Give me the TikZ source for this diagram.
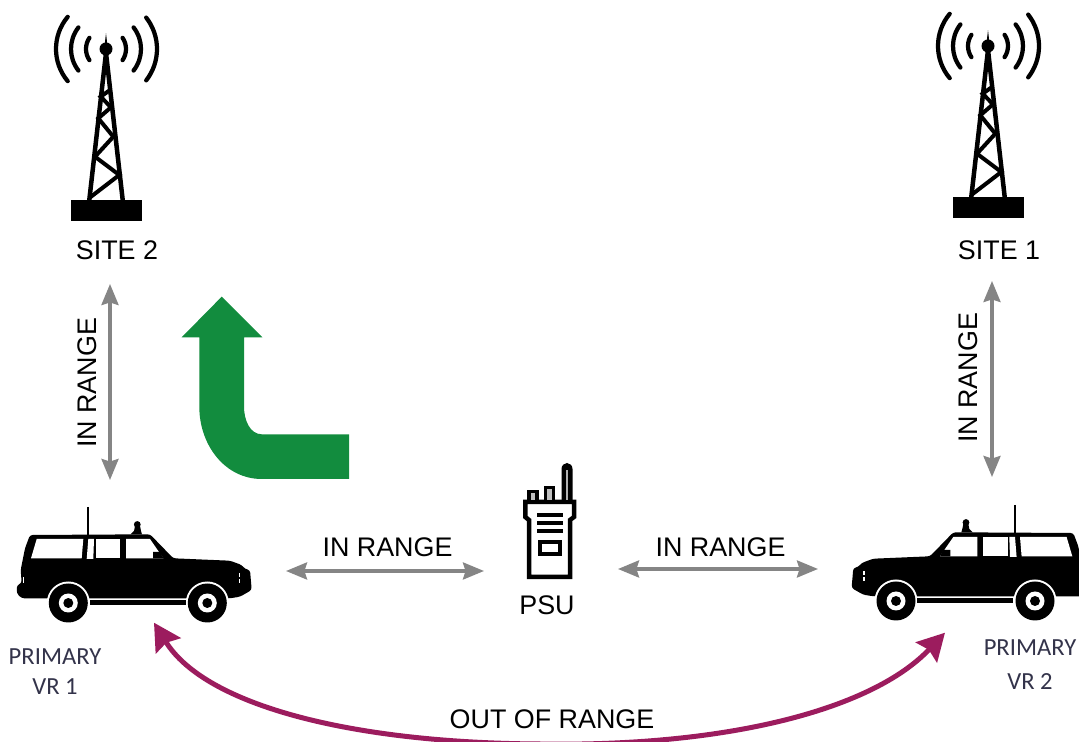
\documentclass[tikz,border=0pt]{standalone}
\usepackage{fontspec}
\usepackage{xcolor}
\setmainfont{Liberation Sans}
\newfontfamily\calibrifont{Carlito}
\usetikzlibrary{arrows.meta, positioning, calc}

\tikzset{
  rotulo/.style={inner sep=0pt, font=\fontsize{15.3}{18}\selectfont, text=black},
  primario/.style={inner sep=0pt, font=\calibrifont\fontsize{14}{18}\selectfont, text=legenda},
  alcance/.style={draw=cinza, line width=0.065cm, {Stealth[length=0.42cm, width=0.34cm, inset=0.05cm]}-{Stealth[length=0.42cm, width=0.34cm, inset=0.05cm]}},
  foraalcance/.style={draw=roxo, line width=0.1cm, {Stealth[length=0.54cm, width=0.58cm, inset=0.07cm]}-{Stealth[length=0.54cm, width=0.58cm, inset=0.07cm]}},
  onda/.style={line width=0.085cm, line cap=round},
  tower/.pic={
    \draw[onda] (0,0) ++(140:50) arc (140:220:50);
    \draw[onda] (0,0) ++(38:51) arc (38:-38:51);
    \draw[onda] (0,0) ++(142:35) arc (142:218:35);
    \draw[onda] (0,0) ++(38:35) arc (38:-38:35);
    \draw[onda] (0,0) ++(146:20) arc (146:214:20);
    \draw[onda] (0,0) ++(34:20) arc (34:-34:20);
    \fill (0,0) circle (6.5);
    \draw[line width=0.09cm, line join=miter] (-16.7,151) -- (0,4) -- (16.7,151);
    \draw[line width=0.08cm] (-16.7,149) -- (13.3,126) -- (-11,107.7) -- (7.3,87.7) -- (-7.7,69.3) -- (5,58.3) -- (-5.3,47.7) -- (4,41);
    \fill (-35,151) rectangle (35.7,171.7);
  },
  car/.pic={
    % carroceria
    \fill[rounded corners=1.5pt] (17,95) -- (21.7,93.3) -- (20.7,80) -- (25,58.3) -- (30,45) -- (150,44.3) -- (173.3,68.3) -- (230,70.7) -- (241.7,75) -- (245,79) -- (250,80) -- (251.7,100) -- (240,106.7) -- (230,108.3) -- (21.7,108.3) -- (16.7,103.3) -- cycle;
    \draw[line width=0.04cm] (88.3,17) -- (88.3,45);
    \fill (137.3,34.5) circle (3.4);
    \fill (130.5,44.5) -- (134,41) -- (135,36) -- (140,36) -- (141,41) -- (142,44.5) -- cycle;
    % janelas
    \fill[white] (36.7,49) -- (83.3,49) -- (81.7,68.3) -- (31,68.3) -- cycle;
    \fill[white] (88.3,49) -- (94,49) -- (93.3,69) -- (86.7,69) -- cycle;
    \fill[white] (95.5,49) -- (120,49) -- (120,68.3) -- (95.5,68.3) -- cycle;
    \fill[white] (126,49) -- (150,49) -- (163.3,68.3) -- (126,68.3) -- cycle;
    \fill (153,62) -- (160,62) -- (163.3,68.3) -- (153,68.3) -- cycle;
    \fill[white] (22.5,87) rectangle (23.7,93);
    \fill[white] (238.6,83) rectangle (240,87);
    \fill[white] (238.6,89) rectangle (240,93);
    % rodas
    \fill[white] (68.3,113) circle (21.5);
    \fill[white] (207.3,113) circle (21.5);
    \fill (90,110) rectangle (186,115);
    \fill (68.3,113) circle (19.5);
    \fill (207.3,113) circle (19.5);
    \fill[white] (68.3,113) circle (9.5);
    \fill[white] (207.3,113) circle (9.5);
    \fill (68.3,113) circle (5);
    \fill (207.3,113) circle (5);
  },
  radio/.pic={
    \draw[line width=0.09cm] (25.3,52) -- (74,52) -- (74,67) -- (70,70) -- (70,127) -- (29,127) -- (29,70) -- (25.3,67) -- cycle;
    \draw[line width=0.07cm, fill=gray!50] (29,41.5) rectangle (37,52);
    \draw[line width=0.07cm, fill=gray!50] (45.5,37.5) rectangle (53.5,52);
    \fill (61.5,52) -- (61.5,19) arc (180:360:5.5 and 6) -- (72.5,52) -- cycle;
    \fill[gray!60] (66,50) rectangle (68,20);
    \fill (37,62.7) rectangle (62.7,67);
    \fill (37,70.7) rectangle (62.7,75);
    \fill (37,79.3) rectangle (62.7,83.3);
    \draw[line width=0.07cm] (40,92) rectangle (60,104);
  },
}

\begin{document}
\begin{tikzpicture}[x=0.02cm, y=-0.02cm]
\definecolor{cinza}{HTML}{858585}
\definecolor{verde}{HTML}{128C3E}
\definecolor{roxo}{HTML}{9C1C5E}
\definecolor{legenda}{HTML}{33334A}
\useasboundingbox (0,0) rectangle (1079,742);

% LAYER 1: Torres e viaturas
\pic (tower2) at (106,49) {tower};
\pic (tower1) at (988,46) {tower};
\pic (car1) at (0,490) {car};
\pic[xscale=-1] (car2) at (1103.3,488) {car};
\pic (radio1) at (500,450) {radio};

% LAYER 2: Rotulos
\node[rotulo] (site2) at (117,250) {SITE 2};
\node[rotulo] (site1) at (999,250) {SITE 1};
\node[rotulo] (psu) at (547,605) {PSU};
\node[primario] (primary1) at (55,657) {PRIMARY};
\node[primario] (vr1) at (55,687) {VR 1};
\node[primario] (primary2) at (1030,648) {PRIMARY};
\node[primario] (vr2) at (1030,682) {VR 2};
\node[rotulo, rotate=90] (inrange1) at (87,383) {IN RANGE};
\node[rotulo, rotate=90] (inrange2) at (968,378) {IN RANGE};
\node[rotulo] (inrange3) at (387.5,547) {IN RANGE};
\node[rotulo] (inrange4) at (720.5,547) {IN RANGE};

% LAYER 3: Setas de alcance
\coordinate (a2top) at (110,284);
\coordinate (a2bot) at (110,480);
\coordinate (a1top) at (992,281);
\coordinate (a1bot) at (992,477);
\coordinate (hLa) at (286,571);
\coordinate (hLb) at (484,571);
\coordinate (hRa) at (618,569);
\coordinate (hRb) at (818,569);
\draw[alcance] (a2top) -- (a2bot);
\draw[alcance] (a1top) -- (a1bot);
\draw[alcance] (hLa) -- (hLb);
\draw[alcance] (hRa) -- (hRb);

% LAYER 4: Seta verde
\fill[verde] (221.7,296.7) -- (262.3,337.3) -- (244,337.3) -- (244,406.7) .. controls (244,420) and (250,434.3) .. (261.7,434.3) -- (349,434.3) -- (349,479) -- (261.7,479) .. controls (225,479) and (199.3,445) .. (199.3,406.7) -- (199.3,337.3) -- (181.7,337.3) -- cycle;

% LAYER 5: Fora de alcance
\coordinate (oorL) at (154,622.7);
\coordinate (oorM) at (540,744);
\coordinate (oorR) at (945,632.7);
\draw[foraalcance] (oorL) .. controls (205,705) and (350,743) .. (oorM) .. controls (720,747) and (870,712) .. (oorR);
\node[rotulo] (outrange) at (552,719) {OUT OF RANGE};
\end{tikzpicture}
\end{document}
